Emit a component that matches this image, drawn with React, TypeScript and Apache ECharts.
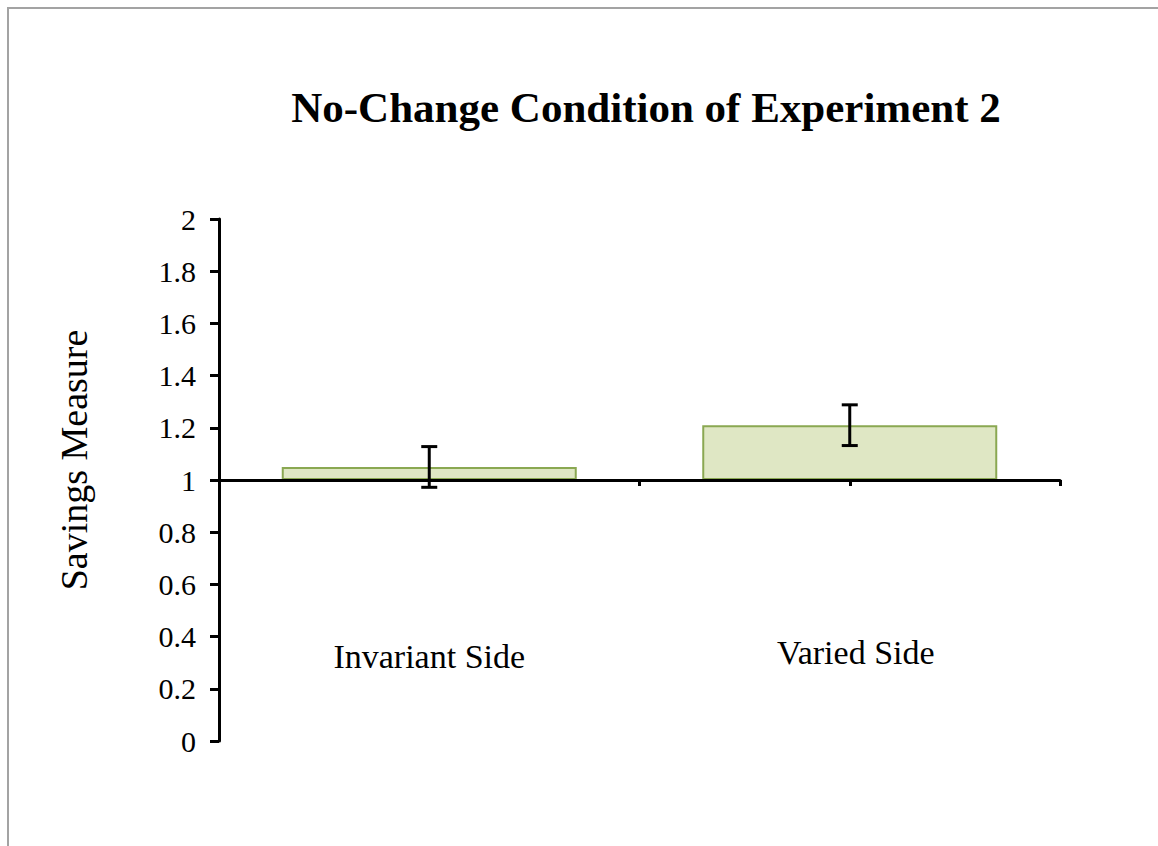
import React, { useEffect, useRef } from "react";
import * as echarts from "echarts";

const categories = ["Invariant Side", "Varied Side"];
const means = [1.05, 1.21];
const errors = [0.078, 0.078];
const baseline = 1;
const yTicks = { min: 0, max: 2, interval: 0.2 };
const titleText = "No-Change Condition of Experiment 2";
const yName = "Savings Measure";

const FONT = "'Liberation Serif', 'Times New Roman', serif";

export default function App() {
  const ref = useRef<HTMLDivElement>(null);
  useEffect(() => {
    if (!ref.current) return;
    const chart = echarts.init(ref.current, undefined, { renderer: "svg" });
    const option: any = {
      animation: false,
      backgroundColor: "#ffffff",
      title: {
        text: titleText,
        left: 641,
        top: 81,
        textAlign: "center",
        textStyle: { fontFamily: FONT, fontWeight: "bold", fontSize: 43, color: "#000" },
      },
      grid: { left: 219, right: 98, top: 219, bottom: 105, containLabel: false },
      xAxis: [
        {
          type: "category",
          data: categories,
          position: "bottom",
          offset: -261,
          z: 10,
          axisLine: { onZero: false, lineStyle: { color: "#000", width: 3 } },
          axisTick: { show: true, length: 6, lineStyle: { color: "#000", width: 3 } },
          axisLabel: {
            margin: 155,
            fontFamily: FONT,
            fontSize: 34,
            color: "#000",
            formatter: (v: string, i: number) => (i === 0 ? `{a|${v}}` : `{b|${v}}`),
            rich: {
              a: { fontFamily: FONT, fontSize: 34, color: "#000", padding: [4, 0, 0, 0] },
              b: { fontFamily: FONT, fontSize: 34, color: "#000", padding: [0, 0, 0, 12] },
            },
          },
          splitLine: { show: false },
        },
        {
          type: "category",
          data: categories,
          position: "bottom",
          offset: -261,
          z: 10,
          axisLine: { show: false, onZero: false },
          axisTick: {
            show: true,
            alignWithLabel: true,
            length: 6,
            interval: (index: number) => index === 1,
            lineStyle: { color: "#000", width: 3 },
          },
          axisLabel: { show: false },
          splitLine: { show: false },
        },
      ],
      yAxis: {
        type: "value",
        min: yTicks.min,
        max: yTicks.max,
        interval: yTicks.interval,
        name: yName,
        nameLocation: "middle",
        nameRotate: 90,
        nameGap: 126,
        nameTextStyle: { fontFamily: FONT, fontSize: 38, color: "#000", padding: [0, 0, 0, 40] },
        axisLine: { show: true, lineStyle: { color: "#000", width: 3 } },
        axisTick: { show: true, length: 9, lineStyle: { color: "#000", width: 3 } },
        axisLabel: {
          margin: 23,
          fontFamily: FONT,
          fontSize: 30,
          color: "#000",
          formatter: (v: number) => String(Math.round(v * 10) / 10),
        },
        splitLine: { show: false },
      },
      series: [
        {
          type: "bar",
          stack: "s",
          silent: true,
          barWidth: 295,
          data: means.map(() => baseline),
          itemStyle: { color: "transparent" },
        },
        {
          type: "bar",
          stack: "s",
          barWidth: 295,
          data: means.map((m) => m - baseline),
          itemStyle: { color: "#dfe7c4", borderColor: "#8aa852", borderWidth: 2 },
        },
        {
          type: "custom",
          z: 12,
          data: means.map((m, i) => [i, m - errors[i], m + errors[i]]),
          renderItem: (params: any, api: any) => {
            const x = api.value(0);
            const lo = api.coord([x, api.value(1)]);
            const hi = api.coord([x, api.value(2)]);
            const w = 8;
            const st = { stroke: "#000", lineWidth: 3 };
            return {
              type: "group",
              children: [
                { type: "line", shape: { x1: lo[0], y1: lo[1], x2: hi[0], y2: hi[1] }, style: st },
                { type: "line", shape: { x1: lo[0] - w, y1: lo[1], x2: lo[0] + w, y2: lo[1] }, style: st },
                { type: "line", shape: { x1: hi[0] - w, y1: hi[1], x2: hi[0] + w, y2: hi[1] }, style: st },
              ],
            };
          },
        },
      ],
    };
    chart.setOption(option);
    return () => chart.dispose();
  }, []);
  return (
    <div style={{ position: "absolute", left: 0, top: 0, width: 1158, height: 846, background: "#fff" }}>
      <div ref={ref} style={{ position: "absolute", left: 0, top: 0, width: 1158, height: 846 }} />
      <div
        style={{
          position: "absolute",
          left: 7,
          top: 7,
          width: 1151,
          height: 839,
          boxSizing: "border-box",
          borderTop: "2px solid #a3a3a3",
          borderLeft: "2px solid #a3a3a3",
          pointerEvents: "none",
        }}
      />
    </div>
  );
}
